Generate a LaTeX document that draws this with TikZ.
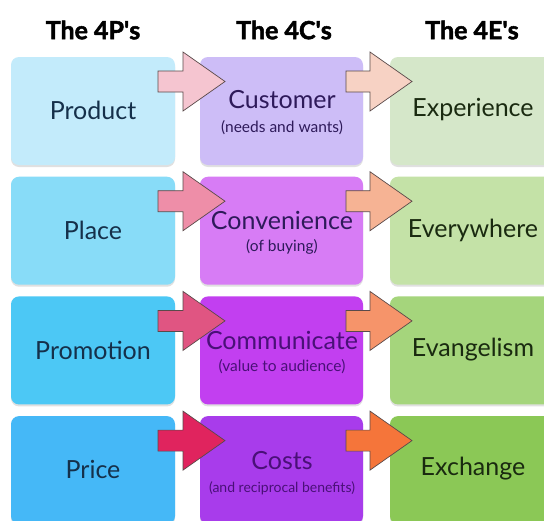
\documentclass[tikz,border=0pt]{standalone}
\usepackage{fontspec}
\setmainfont{Lato}
\newfontfamily\hdrfont{Lato}[BoldFeatures={FakeBold=2}]
\definecolor{pA}{HTML}{C3EBFB}\definecolor{pB}{HTML}{88DCF8}\definecolor{pC}{HTML}{4CC8F5}\definecolor{pD}{HTML}{45B8F7}
\definecolor{cA}{HTML}{CDBDF7}\definecolor{cB}{HTML}{D77CF5}\definecolor{cC}{HTML}{C23FF0}\definecolor{cD}{HTML}{A83CEB}
\definecolor{eA}{HTML}{D5E7C9}\definecolor{eB}{HTML}{C4E2A7}\definecolor{eC}{HTML}{A5D57C}\definecolor{eD}{HTML}{8BC856}
\definecolor{aA}{HTML}{F5C5D0}\definecolor{aB}{HTML}{EE8EA8}\definecolor{aC}{HTML}{E05582}\definecolor{aD}{HTML}{E0245E}
\definecolor{bA}{HTML}{F7D2C4}\definecolor{bB}{HTML}{F6B394}\definecolor{bC}{HTML}{F6946A}\definecolor{bD}{HTML}{F5753A}
\definecolor{ptxt}{HTML}{15304A}\definecolor{ctxt}{HTML}{2E1A5A}\definecolor{ctxtd}{HTML}{4A1078}\definecolor{etxt}{HTML}{1A2A10}
\definecolor{aline}{HTML}{5A4A4A}
\tikzset{
  cell/.style={rounded corners=8pt},
  shade/.style={rounded corners=8pt, fill=black!12},
  big/.style={font=\fontsize{25}{29}\selectfont, inner sep=0pt, anchor=center},
  small/.style={font=\fontsize{15.5}{18}\selectfont, inner sep=0pt, anchor=center},
  hdr/.style={font=\fontsize{25}{29}\selectfont\hdrfont\bfseries, inner sep=0pt, anchor=center},
  blockarrow/.style={draw=aline, line width=0.7pt, line join=miter}
}
\begin{document}
\begin{tikzpicture}[x=1pt,y=-1pt]
\useasboundingbox (0,0) rectangle (544,520);
\fill[white] (0,0) rectangle (544,520);
\begin{scope}
\clip (0,0) rectangle (544,520);
% headers
\node[hdr] (h1) at (93,30) {The 4P\textquotesingle s};
\node[hdr] (h2) at (284,30) {The 4C\textquotesingle s};
\node[hdr] (h3) at (472,30) {The 4E\textquotesingle s};
% rows
\foreach \r/\P/\C/\E/\A/\B in {0/pA/cA/eA/aA/bA,1/pB/cB/eB/aB/bB,2/pC/cC/eC/aC/bC,3/pD/cD/eD/aD/bD}{
  \pgfmathsetmacro{\yt}{57+119.7*\r}
  \pgfmathsetmacro{\yb}{\yt+108}
  \fill[shade] (11,\yt+2) rectangle (175,\yb+2);
  \fill[shade] (200,\yt+2) rectangle (363,\yb+2);
  \fill[shade] (390,\yt+2) rectangle (600,\yb+2);
  \fill[cell,\P] (11,\yt) rectangle (175,\yb);
  \fill[cell,\C] (200,\yt) rectangle (363,\yb);
  \fill[cell,\E] (390,\yt) rectangle (600,\yb);
  \pgfmathsetmacro{\ya}{\yt-5}
  \pgfmathsetmacro{\yc}{\yt+14}
  \pgfmathsetmacro{\yd}{\yt+24.5}
  \pgfmathsetmacro{\ye}{\yt+35}
  \pgfmathsetmacro{\yf}{\yt+54}
  \filldraw[blockarrow, fill=\A] (158,\yc) -- (183,\yc) -- (183,\ya) -- (225,\yd) -- (183,\yf) -- (183,\ye) -- (158,\ye) -- cycle;
  \filldraw[blockarrow, fill=\B] (346,\yc) -- (370,\yc) -- (370,\ya) -- (412,\yd) -- (370,\yf) -- (370,\ye) -- (346,\ye) -- cycle;
}
\end{scope}
% texts
\node[big, text=ptxt] (p1) at (93,110) {Product};
\node[big, text=ptxt] (p2) at (93,230) {Place};
\node[big, text=ptxt] (p3) at (93,350) {Promotion};
\node[big, text=ptxt] (p4) at (93,469) {Price};
\node[big, text=ctxt] (c1) at (282,100) {Customer};
\node[small, text=ctxt] (c1s) at (282,128) {(needs and wants)};
\node[big, text=ctxt] (c2) at (282,220) {Convenience};
\node[small, text=ctxt] (c2s) at (282,247) {(of buying)};
\node[big, text=ctxtd] (c3) at (282,340) {Communicate};
\node[small, text=ctxtd] (c3s) at (282,367) {(value to audience)};
\node[big, text=ctxtd] (c4) at (282,461) {Costs};
\node[small, text=ctxtd, font=\fontsize{14}{17}\selectfont] (c4s) at (282,488) {(and reciprocal benefits)};
\node[big, text=etxt] (e1) at (473,110) {Experience};
\node[big, text=etxt] (e2) at (473,230) {Everywhere};
\node[big, text=etxt] (e3) at (473,350) {Evangelism};
\node[big, text=etxt] (e4) at (473,469) {Exchange};
\end{tikzpicture}
\end{document}
